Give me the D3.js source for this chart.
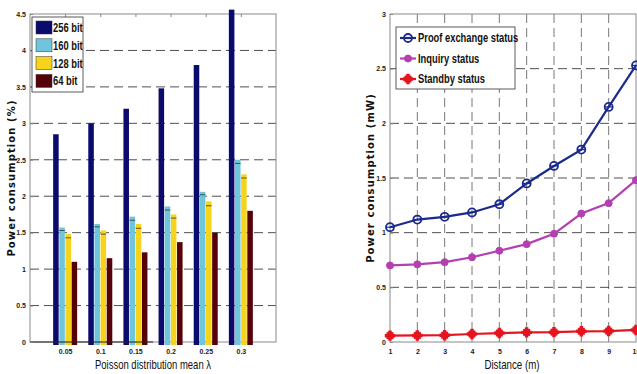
<!DOCTYPE html>
<html>
<head>
<meta charset="utf-8">
<script src="https://cdn.jsdelivr.net/npm/d3@7"></script>
<style>
  body { margin: 0; background: #fff; }
  svg { display: block; }
  .tick text { font-family: "Liberation Sans", sans-serif; font-size: 7px; font-weight: bold; fill: #222; }
  .lbl { font-family: "Liberation Sans", sans-serif; font-size: 11px; fill: #111; }
  .ytitle { font-family: "DejaVu Sans", sans-serif; font-size: 10px; font-weight: bold; letter-spacing: 1.1px; fill: #111; }
</style>
</head>
<body>
<svg id="chart" width="637" height="374"></svg>
<script>
// left chart: grouped bars
const lambdas = ["0.05", "0.1", "0.15", "0.2", "0.25", "0.3"];
const barSeries = ["256 bit", "160 bit", "128 bit", "64 bit"];
const bits256 = [2.85, 3.0, 3.2, 3.48, 3.8, 4.56];
const bits160 = [1.57, 1.62, 1.72, 1.86, 2.06, 2.5];
const bits128 = [1.48, 1.53, 1.62, 1.75, 1.93, 2.3];
const bits64 = [1.1, 1.15, 1.23, 1.37, 1.5, 1.8];
// small dark marks drawn inside the 160/128 bars
const mark160 = [1.53, 1.58, 1.67, 1.81, 2.02, 2.45];
const mark128 = [1.43, 1.48, 1.56, 1.7, 1.87, 2.25];
const barColors = ["#0b0b6e", "#6fc6da", "#f7d31c", "#560008"];
const leftTicks = [0, 0.5, 1, 1.5, 2, 2.5, 3, 3.5, 4, 4.5];

// right chart: lines
const distances = [1, 2, 3, 4, 5, 6, 7, 8, 9, 10];
const lineSeries = ["Proof exchange status", "Inquiry status", "Standby status"];
const proofExchange = [1.05, 1.12, 1.145, 1.185, 1.26, 1.45, 1.61, 1.76, 2.15, 2.53];
const inquiry = [0.7, 0.71, 0.73, 0.775, 0.835, 0.895, 0.99, 1.175, 1.27, 1.48];
const standby = [0.058, 0.06, 0.062, 0.073, 0.082, 0.088, 0.09, 0.098, 0.1, 0.11];
const lineColors = ["#1b2a8c", "#b43fb0", "#e5141e"];
const rightTicks = [0, 0.5, 1, 1.5, 2, 2.5, 3];

const svg = d3.select("#chart");

// narrow text helper (the source uses a condensed face)
function narrowText(g, x, y, txt, size, sx, anchor) {
  return g.append("text").attr("class", "lbl")
    .attr("transform", `translate(${x},${y}) scale(${sx},1)`)
    .attr("text-anchor", anchor || "start")
    .style("font-size", size + "px")
    .text(txt);
}

// ---------- left ----------
const L = { left: 30, right: 276, top: 14, bottom: 342 };
const x1 = d3.scaleLinear().domain([0, 7]).range([L.left, L.right]);
const y1 = d3.scaleLinear().domain([0, 4.5]).range([L.bottom, L.top]);
const inner = d3.scaleBand().domain(barSeries).range([-12, 12]).paddingInner(0.1);

const gl = svg.append("g");

gl.selectAll(".hgrid")
  .data(leftTicks.slice(1, -1))
  .join("line")
  .attr("x1", L.left).attr("x2", L.right)
  .attr("y1", d => y1(d)).attr("y2", d => y1(d))
  .attr("stroke", "#222").attr("stroke-width", 0.8)
  .attr("stroke-dasharray", "9,5");

gl.append("rect")
  .attr("x", L.left).attr("y", L.top)
  .attr("width", L.right - L.left).attr("height", L.bottom - L.top)
  .attr("fill", "none").attr("stroke", "#8a8a8a").attr("stroke-width", 1);

const barTable = [bits256, bits160, bits128, bits64];
barTable.forEach((vals, si) => {
  gl.selectAll(".bar" + si)
    .data(vals)
    .join("rect")
    .attr("x", (d, i) => x1(i + 1) + inner(barSeries[si]))
    .attr("y", d => y1(d))
    .attr("width", inner.bandwidth())
    .attr("height", d => y1(0) - y1(d) + 3)
    .attr("fill", barColors[si]);
});

[[mark160, 1], [mark128, 2]].forEach(([vals, si]) => {
  gl.selectAll(".mk" + si)
    .data(vals)
    .join("line")
    .attr("x1", (d, i) => x1(i + 1) + inner(barSeries[si]))
    .attr("x2", (d, i) => x1(i + 1) + inner(barSeries[si]) + inner.bandwidth())
    .attr("y1", d => y1(d)).attr("y2", d => y1(d))
    .attr("stroke", "#333").attr("stroke-width", 0.8);
});

gl.append("line")
  .attr("x1", L.left).attr("x2", x1(3.5))
  .attr("y1", y1(0)).attr("y2", y1(0))
  .attr("stroke", "#222").attr("stroke-width", 1);

gl.append("g")
  .attr("transform", `translate(${L.left},0)`)
  .call(d3.axisLeft(y1).tickValues(leftTicks).tickSize(-3).tickPadding(4).tickFormat(d3.format("")))
  .call(g => g.select(".domain").remove())
  .call(g => g.selectAll(".tick line").attr("stroke", "#888"));

gl.append("g")
  .attr("transform", `translate(0,${L.bottom})`)
  .call(d3.axisBottom(x1).tickValues([1, 2, 3, 4, 5, 6]).tickSize(0).tickPadding(7)
    .tickFormat((d, i) => lambdas[i]))
  .call(g => g.select(".domain").remove());

gl.append("g")
  .attr("transform", `translate(0,${L.top})`)
  .call(d3.axisTop(x1).tickValues([1, 2, 3, 4, 5, 6]).tickSize(-3).tickFormat(""))
  .call(g => g.select(".domain").remove())
  .call(g => g.selectAll(".tick line").attr("stroke", "#888"));

narrowText(gl, 153, 369, "Poisson distribution mean λ", 12.5, 0.76, "middle");

gl.append("text").attr("class", "ytitle")
  .attr("transform", `translate(15,${(L.top + L.bottom) / 2}) rotate(-90)`)
  .attr("text-anchor", "middle")
  .text("Power consumption (%)");

const leg1 = gl.append("g").attr("transform", "translate(32,17)");
leg1.append("rect").attr("width", 51).attr("height", 75)
  .attr("fill", "#fff").attr("stroke", "#333").attr("stroke-width", 0.8);
barSeries.forEach((s, i) => {
  leg1.append("rect").attr("x", 4).attr("y", 4 + i * 17.8)
    .attr("width", 16).attr("height", 13)
    .attr("fill", barColors[i]).attr("stroke", "#333").attr("stroke-width", 0.5);
  narrowText(leg1, 21, 15 + i * 17.8, s, 12, 0.78).style("font-weight", "bold");
});

// ---------- right ----------
const R = { left: 390, right: 636, top: 14, bottom: 342 };
const x2 = d3.scaleLinear().domain([1, 10]).range([R.left, R.right]);
const y2 = d3.scaleLinear().domain([0, 3]).range([R.bottom, R.top]);

const gr = svg.append("g");

gr.selectAll(".vgrid")
  .data(distances.slice(1, -1))
  .join("line")
  .attr("x1", d => x2(d)).attr("x2", d => x2(d))
  .attr("y1", R.top).attr("y2", R.bottom)
  .attr("stroke", "#555").attr("stroke-width", 0.8)
  .attr("stroke-dasharray", "9,5");

gr.selectAll(".hgrid")
  .data(rightTicks.slice(1, -1))
  .join("line")
  .attr("x1", R.left).attr("x2", R.right)
  .attr("y1", d => y2(d)).attr("y2", d => y2(d))
  .attr("stroke", "#222").attr("stroke-width", 0.8)
  .attr("stroke-dasharray", "9,5");

gr.append("rect")
  .attr("x", R.left).attr("y", R.top)
  .attr("width", R.right - R.left).attr("height", R.bottom - R.top)
  .attr("fill", "none").attr("stroke", "#8a8a8a").attr("stroke-width", 1);

gr.append("g")
  .attr("transform", `translate(${R.left},0)`)
  .call(d3.axisLeft(y2).tickValues(rightTicks).tickSize(-3).tickPadding(4).tickFormat(d3.format("")))
  .call(g => g.select(".domain").remove())
  .call(g => g.selectAll(".tick line").attr("stroke", "#888"));

gr.append("g")
  .attr("transform", `translate(0,${R.bottom})`)
  .call(d3.axisBottom(x2).tickValues(distances).tickSize(0).tickPadding(7).tickFormat(d3.format("d")))
  .call(g => g.select(".domain").remove());

const lineGen = d3.line().x((d, i) => x2(distances[i])).y(d => y2(d));
const lineTable = [proofExchange, inquiry, standby];

function marker(g, kind, color, cx, cy) {
  if (kind === 0) {
    g.append("circle").attr("cx", cx).attr("cy", cy).attr("r", 4)
      .attr("fill", "none").attr("stroke", color).attr("stroke-width", 1.8);
    g.append("line").attr("x1", cx - 4).attr("x2", cx + 4).attr("y1", cy).attr("y2", cy)
      .attr("stroke", color).attr("stroke-width", 1.2);
  } else if (kind === 1) {
    g.append("circle").attr("cx", cx).attr("cy", cy).attr("r", 3.5)
      .attr("fill", color).attr("stroke", color).attr("stroke-width", 1);
  } else {
    g.append("path")
      .attr("d", d3.symbol().type(d3.symbolCross).size(60)())
      .attr("transform", `translate(${cx},${cy})`)
      .attr("fill", color);
    g.append("rect").attr("x", cx - 3.5).attr("y", cy - 3.5).attr("width", 7).attr("height", 7)
      .attr("fill", color);
  }
}

lineTable.forEach((vals, si) => {
  gr.append("path").datum(vals)
    .attr("d", lineGen)
    .attr("fill", "none").attr("stroke", lineColors[si]).attr("stroke-width", 2.2);
  vals.forEach((v, i) => marker(gr, si, lineColors[si], x2(distances[i]), y2(v)));
});

narrowText(gr, 512, 369, "Distance (m)", 12.5, 0.78, "middle");

gr.append("text").attr("class", "ytitle")
  .attr("transform", `translate(374,${(R.top + R.bottom) / 2}) rotate(-90)`)
  .attr("text-anchor", "middle")
  .text("Power consumption (mW)");

const leg2 = gr.append("g").attr("transform", "translate(396,27)");
leg2.append("rect").attr("width", 119).attr("height", 62)
  .attr("fill", "#fff").attr("stroke", "#333").attr("stroke-width", 0.8);
lineSeries.forEach((s, i) => {
  const cy = 11 + i * 20.5;
  leg2.append("line").attr("x1", 4).attr("x2", 20).attr("y1", cy).attr("y2", cy)
    .attr("stroke", lineColors[i]).attr("stroke-width", 2.2);
  marker(leg2, i, lineColors[i], 12, cy);
  narrowText(leg2, 22, cy + 4, s, 12, 0.78).style("font-weight", "bold");
});
</script>
</body>
</html>
